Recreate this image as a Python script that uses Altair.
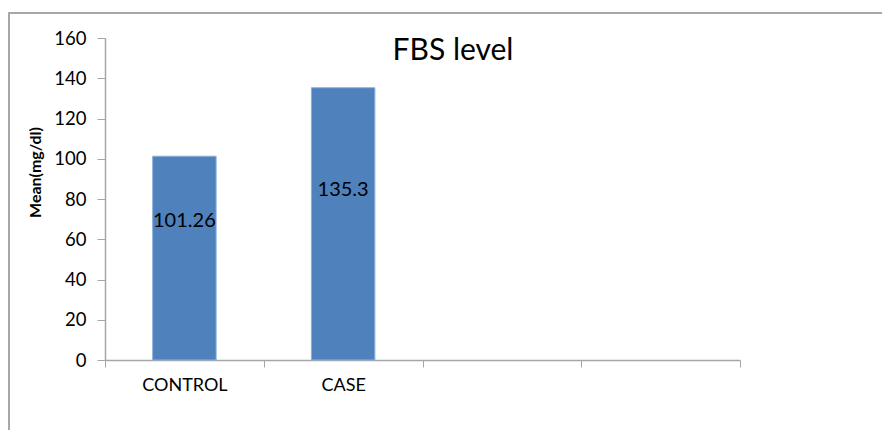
import altair as alt
import pandas as pd

# Mean fasting blood sugar per group (mg/dl); the two trailing slots are empty categories
groups = ["CONTROL", "CASE", " ", "  "]
means = [101.26, 135.3, None, None]
y_ticks = [0, 20, 40, 60, 80, 100, 120, 140, 160]
chart_title = "FBS level"

df = pd.DataFrame({"group": groups, "mean": means})

FONT = "Lato"
AXIS_GREY = "#a6a6a6"
BAR_BLUE = "#4F81BD"

x_enc = alt.X(
    "group:N",
    sort=groups,
    scale=alt.Scale(domain=groups, paddingInner=0, paddingOuter=0),
    axis=alt.Axis(
        title=None,
        tickBand="extent",
        tickSize=7,
        tickColor=AXIS_GREY,
        domainColor=AXIS_GREY,
        domainWidth=1.5,
        labelFont=FONT,
        labelFontSize=18,
        labelColor="#000000",
        labelPadding=9,
        labelAngle=0,
        grid=False,
    ),
)

y_enc = alt.Y(
    "mean:Q",
    scale=alt.Scale(domain=[0, 160], nice=False),
    axis=alt.Axis(
        title="Mean(mg/dl)",
        values=y_ticks,
        grid=False,
        tickSize=8,
        tickColor=AXIS_GREY,
        domainColor=AXIS_GREY,
        domainWidth=1.5,
        labelFont=FONT,
        labelFontSize=18.5,
        labelColor="#000000",
        labelPadding=11,
        titleFont=FONT,
        titleFontSize=16,
        titleFontWeight="bold",
        titleColor="#000000",
        titleAngle=270,
        titleBaseline="middle",
        titleAlign="center",
        titleX=-70,
        titleY=134,
    ),
)

base = alt.Chart(df)

# Outer chart frame
frame = base.mark_rect(
    fillOpacity=0, stroke="#a6a6a6", strokeWidth=1.5
).encode(
    x=alt.value(-96), x2=alt.value(900), y=alt.value(-25), y2=alt.value(500)
)

bars = base.transform_filter("datum.mean != null").mark_bar(
    color=BAR_BLUE,
    stroke="#8DB0DA",
    strokeWidth=1,
    width=alt.RelativeBandSize(0.4),
).encode(x=x_enc, y=y_enc)

label_style = dict(font=FONT, fontSize=20, color="#000000", baseline="middle", align="center")

label_control = base.transform_filter("datum.group == 'CONTROL'").mark_text(
    dy=65, **label_style
).encode(x="group:N", y="mean:Q", text=alt.Text("mean:Q", format=".2f"))

label_case = base.transform_filter("datum.group == 'CASE'").mark_text(
    dy=102, **label_style
).encode(x="group:N", y="mean:Q", text=alt.Text("mean:Q", format=".1f"))

# Chart heading, set inside the plot area to the right of centre
heading = alt.Chart(pd.DataFrame({"t": [chart_title]})).mark_text(
    font=FONT, fontSize=30, color="#000000", align="center", baseline="alphabetic"
).encode(text="t:N", x=alt.value(348), y=alt.value(21.5))

chart = (
    alt.layer(frame, bars, label_control, label_case, heading)
    .properties(
        width=635,
        height=322,
        background="#ffffff",
        padding={"left": 105, "top": 38, "right": 142, "bottom": 70},
        autosize=alt.AutoSizeParams(type="none"),
    )
    .configure_view(strokeWidth=0, stroke="transparent")
)

chart.save("out.html", embed_options={"renderer": "svg", "actions": False})
